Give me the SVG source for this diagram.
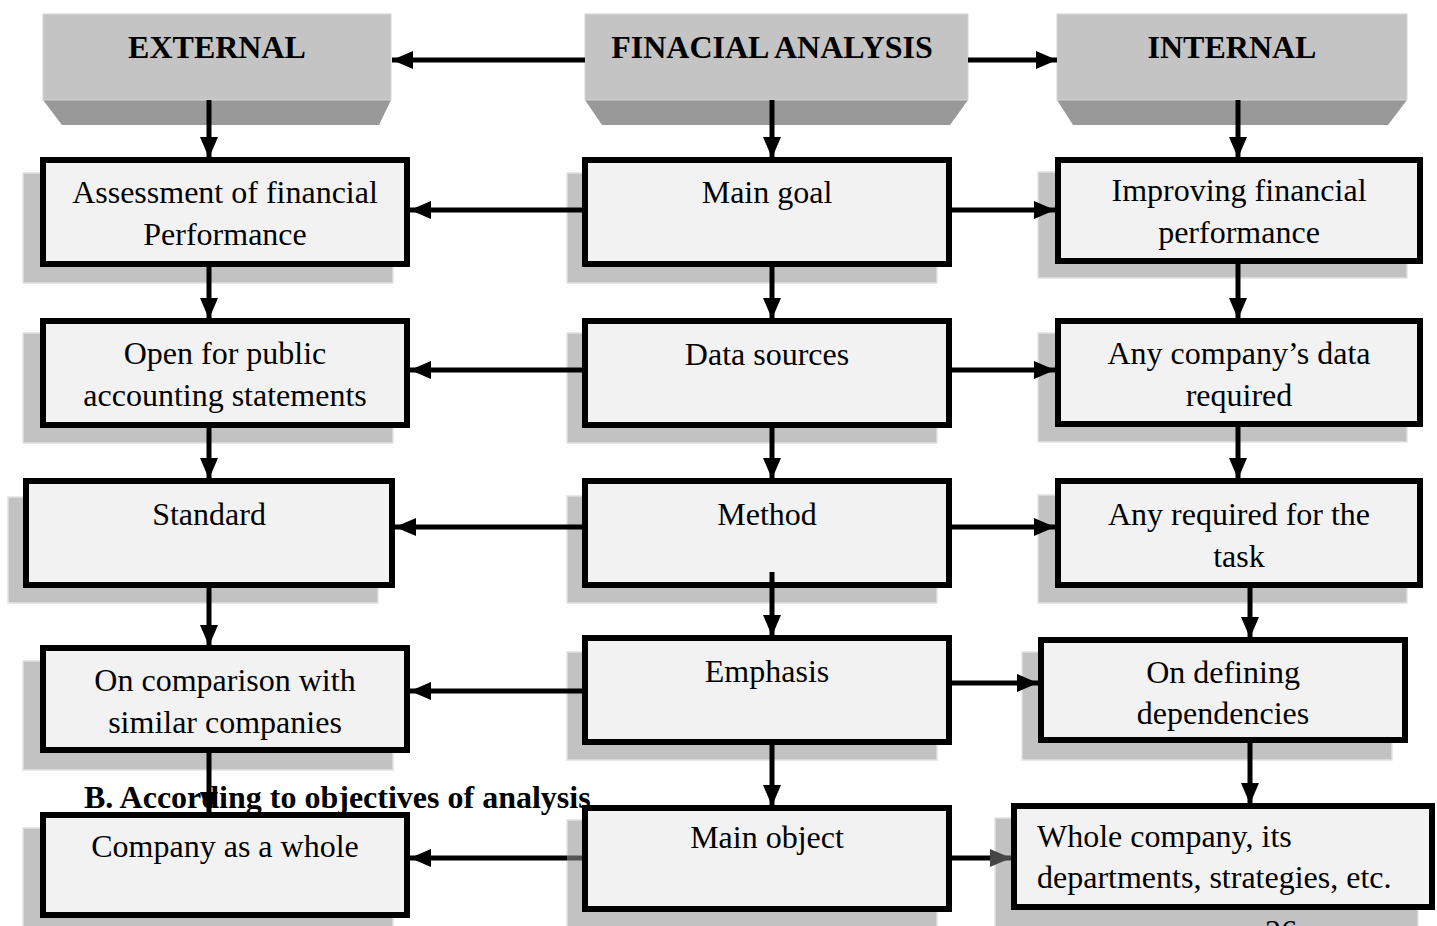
<svg xmlns="http://www.w3.org/2000/svg" width="1437" height="926" viewBox="0 0 1437 926">
<defs>
<style>
.hdrTop{fill:#c4c4c4;stroke:#d6d6d6;stroke-width:1}
.hdrBot{fill:#999999}
.hdr{font-family:"Liberation Serif",serif;font-weight:bold;font-size:32px;fill:#000;text-anchor:middle}
.sh{fill:#c2c2c2;stroke:#e2e2e2;stroke-width:1.5}
.box{fill:#f2f2f2;stroke:#000;stroke-width:6}
.t{font-family:"Liberation Serif",serif;font-size:32px;fill:#000;text-anchor:middle}
.tl{font-family:"Liberation Serif",serif;font-size:32px;fill:#000}
.cap{font-family:"Liberation Serif",serif;font-weight:bold;font-size:32px;fill:#000}
.c{fill:none;stroke:#000;stroke-width:5;marker-end:url(#ah)}
</style>
<marker id="ah" markerUnits="userSpaceOnUse" markerWidth="22" markerHeight="18" viewBox="0 0 22 18" refX="21" refY="9" orient="auto">
<path d="M0,0 L21,9 L0,18 z" fill="#000"/>
</marker>
<marker id="ahg" markerUnits="userSpaceOnUse" markerWidth="22" markerHeight="18" viewBox="0 0 22 18" refX="21" refY="9" orient="auto">
<path d="M0,0 L21,9 L0,18 z" fill="#454545"/>
</marker>
<linearGradient id="gl" gradientUnits="userSpaceOnUse" x1="410" y1="0" x2="582" y2="0">
<stop offset="0" stop-color="#000"/>
<stop offset="0.91" stop-color="#000"/>
<stop offset="0.91" stop-color="#555"/>
<stop offset="1" stop-color="#555"/>
</linearGradient>
<linearGradient id="gr" gradientUnits="userSpaceOnUse" x1="952" y1="0" x2="1011" y2="0">
<stop offset="0" stop-color="#000"/>
<stop offset="0.73" stop-color="#000"/>
<stop offset="0.73" stop-color="#454545"/>
<stop offset="1" stop-color="#454545"/>
</linearGradient>
</defs>
<rect width="1437" height="926" fill="#fff"/>

<g id="hdr-external">
<polygon class="hdrBot" points="43,100 391,100 379,125 62,125"/>
<rect class="hdrTop" x="43" y="14" width="348" height="86"/>
<text class="hdr" x="217" y="58">EXTERNAL</text>
</g>
<g id="hdr-financial">
<polygon class="hdrBot" points="585,100 968,100 950,125 602,125"/>
<rect class="hdrTop" x="585" y="14" width="383" height="86"/>
<text class="hdr" x="772" y="58">FINACIAL ANALYSIS</text>
</g>
<g id="hdr-internal">
<polygon class="hdrBot" points="1057,100 1407,100 1388,125 1073,125"/>
<rect class="hdrTop" x="1057" y="14" width="350" height="86"/>
<text class="hdr" x="1232" y="58">INTERNAL</text>
</g>

<g id="n-assessment">
<rect class="sh" x="23" y="173" width="370" height="110"/>
<rect class="box" x="43" y="160" width="364" height="104"/>
<text class="t" x="225" y="203">Assessment of financial</text>
<text class="t" x="225" y="245">Performance</text>
</g>
<g id="n-open">
<rect class="sh" x="23" y="333" width="370" height="110"/>
<rect class="box" x="43" y="321" width="364" height="104"/>
<text class="t" x="225" y="364">Open for public</text>
<text class="t" x="225" y="406">accounting statements</text>
</g>
<g id="n-standard">
<rect class="sh" x="8" y="497" width="370" height="106"/>
<rect class="box" x="26" y="481" width="366" height="104"/>
<text class="t" x="209" y="525">Standard</text>
</g>
<g id="n-comparison">
<rect class="sh" x="23" y="661" width="370" height="109"/>
<rect class="box" x="43" y="648" width="364" height="102"/>
<text class="t" x="225" y="691">On comparison with</text>
<text class="t" x="225" y="733">similar companies</text>
</g>

<g id="n-maingoal">
<rect class="sh" x="567" y="173" width="370" height="110"/>
<rect class="box" x="585" y="160" width="364" height="104"/>
<text class="t" x="767" y="203">Main goal</text>
</g>
<g id="n-datasources">
<rect class="sh" x="567" y="333" width="370" height="110"/>
<rect class="box" x="585" y="321" width="364" height="104"/>
<text class="t" x="767" y="365">Data sources</text>
</g>
<g id="n-method">
<rect class="sh" x="567" y="496" width="370" height="107"/>
<rect class="box" x="585" y="481" width="364" height="104"/>
<text class="t" x="767" y="525">Method</text>
</g>
<g id="n-emphasis">
<rect class="sh" x="567" y="652" width="370" height="108"/>
<rect class="box" x="585" y="638" width="364" height="104"/>
<text class="t" x="767" y="682">Emphasis</text>
</g>

<g id="n-improving">
<rect class="sh" x="1038" y="172" width="369" height="106"/>
<rect class="box" x="1058" y="160" width="362" height="101"/>
<text class="t" x="1239" y="201">Improving financial</text>
<text class="t" x="1239" y="243">performance</text>
</g>
<g id="n-anydata">
<rect class="sh" x="1038" y="333" width="369" height="109"/>
<rect class="box" x="1058" y="321" width="362" height="103"/>
<text class="t" x="1239" y="364">Any company’s data</text>
<text class="t" x="1239" y="406">required</text>
</g>
<g id="n-anyrequired">
<rect class="sh" x="1038" y="495" width="369" height="108"/>
<rect class="box" x="1058" y="481" width="362" height="104"/>
<text class="t" x="1239" y="525">Any required for the</text>
<text class="t" x="1239" y="567">task</text>
</g>
<g id="n-defining">
<rect class="sh" x="1022" y="652" width="370" height="108"/>
<rect class="box" x="1041" y="640" width="364" height="100"/>
<text class="t" x="1223" y="683">On defining</text>
<text class="t" x="1223" y="724">dependencies</text>
</g>

<g id="n-company">
<rect class="sh" x="23" y="828" width="370" height="110"/>
<rect class="box" x="43" y="815" width="364" height="100"/>
<text class="t" x="225" y="857">Company as a whole</text>
</g>

<g id="n-mainobject">
<rect class="sh" x="567" y="820" width="370" height="115"/>
<rect class="box" x="585" y="808" width="364" height="101"/>
<text class="t" x="767" y="848">Main object</text>
</g>
<g id="n-whole">
<rect class="sh" x="995" y="818" width="423" height="117"/>
<rect class="box" x="1014" y="806" width="418" height="101"/>
<text class="tl" x="1037" y="847">Whole company, its</text>
<text class="tl" x="1037" y="888">departments, strategies, etc.</text>
</g>

<text id="caption" class="cap" x="84" y="808">B. According to objectives of analysis</text>

<g id="connectors">
<path class="c" d="M585,60 H392"/>
<path class="c" d="M968,60 H1057"/>
<path class="c" d="M209,100 V158"/>
<path class="c" d="M772,100 V158"/>
<path class="c" d="M1238,100 V158"/>
<path class="c" d="M209,267 V319"/>
<path class="c" d="M209,428 V479"/>
<path class="c" d="M209,588 V646"/>
<path class="c" d="M209,753 V813"/>
<path class="c" d="M772,267 V319"/>
<path class="c" d="M772,428 V479"/>
<path class="c" d="M772,572 V636"/>
<path class="c" d="M772,745 V806"/>
<path class="c" d="M1238,264 V319"/>
<path class="c" d="M1238,427 V479"/>
<path class="c" d="M1250,582 V638"/>
<path class="c" d="M1250,743 V804"/>
<path class="c" d="M582,210 H410"/>
<path class="c" d="M952,210 H1055"/>
<path class="c" d="M582,370 H410"/>
<path class="c" d="M952,370 H1055"/>
<path class="c" d="M582,527 H395"/>
<path class="c" d="M952,527 H1055"/>
<path class="c" d="M582,691 H410"/>
<path class="c" d="M952,683 H1038"/>
<path class="c" d="M582,858 H410" stroke="url(#gl)" style="stroke:url(#gl)"/>
<path d="M952,858 H1011" fill="none" stroke-width="5" style="stroke:url(#gr)" marker-end="url(#ahg)"/>
</g>

<text id="page" class="tl" x="1265" y="942">26</text>
</svg>
